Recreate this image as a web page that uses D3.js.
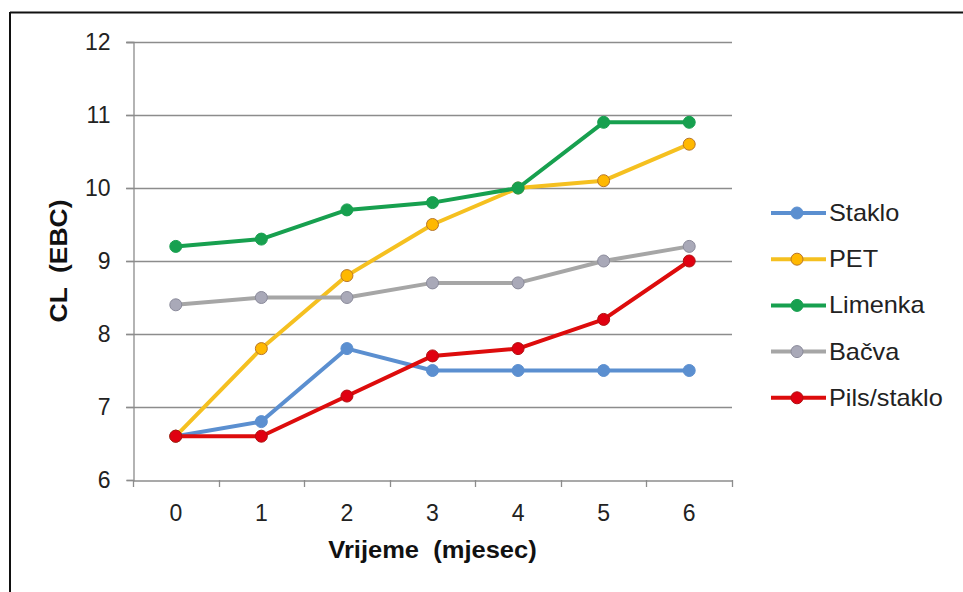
<!DOCTYPE html>
<html>
<head>
<meta charset="utf-8">
<script src="https://cdn.jsdelivr.net/npm/d3@7"></script>
<style>
  html, body { margin: 0; padding: 0; background: #fff; }
  svg { display: block; }
  text { font-family: "Liberation Sans", Arial, sans-serif; }
</style>
</head>
<body>
<svg id="chart" width="963" height="592"></svg>
<script>
const months = ["0", "1", "2", "3", "4", "5", "6"];
const yTicks = [6, 7, 8, 9, 10, 11, 12];
const seriesNames = ["Staklo", "PET", "Limenka", "Bačva", "Pils/staklo"];
const staklo = [6.6, 6.8, 7.8, 7.5, 7.5, 7.5, 7.5];
const pet = [6.6, 7.8, 8.8, 9.5, 10.0, 10.1, 10.6];
const limenka = [9.2, 9.3, 9.7, 9.8, 10.0, 10.9, 10.9];
const bacva = [8.4, 8.5, 8.5, 8.7, 8.7, 9.0, 9.2];
const pils = [6.6, 6.6, 7.15, 7.7, 7.8, 8.2, 9.0];

const styles = [
  { line: "#5b8fd0", fill: "#5b8fd0", stroke: "#5b8fd0" },
  { line: "#f5c020", fill: "#ffb800", stroke: "#b8762a" },
  { line: "#17a04f", fill: "#17a04f", stroke: "#17a04f" },
  { line: "#a6a6a6", fill: "#a9a9b8", stroke: "#8a8a9a" },
  { line: "#dd0c0c", fill: "#e00010", stroke: "#b01010" }
];
const allData = [staklo, pet, limenka, bacva, pils];

const svg = d3.select("#chart");

// outer frame (top and left edges visible)
svg.append("line").attr("x1", 10).attr("x2", 963).attr("y1", 12.5).attr("y2", 12.5)
  .attr("stroke", "#111").attr("stroke-width", 2);
svg.append("line").attr("x1", 10).attr("x2", 10).attr("y1", 12).attr("y2", 592)
  .attr("stroke", "#111").attr("stroke-width", 2);

const pLeft = 133, pRight = 732, pTop = 42, pBottom = 480;
const x = d3.scaleBand().domain(months).range([pLeft, pRight]);
const y = d3.scaleLinear().domain([6, 12]).range([pBottom, pTop]);

// gridlines
svg.append("g").selectAll("line").data(yTicks.filter(d => d > 6)).join("line")
  .attr("x1", pLeft - 7).attr("x2", pRight)
  .attr("y1", d => Math.round(y(d)) + 0.5).attr("y2", d => Math.round(y(d)) + 0.5)
  .attr("stroke", "#8c8c8c").attr("stroke-width", 1.3);

// y axis
const yAxis = svg.append("g").attr("transform", `translate(${pLeft + 0.5},0)`)
  .call(d3.axisLeft(y).tickValues(yTicks).tickSize(7).tickPadding(16).tickFormat(d3.format("d")));
yAxis.select(".domain").attr("stroke", "#8c8c8c").attr("stroke-width", 1.3);
yAxis.selectAll(".tick line").attr("stroke", "#8c8c8c").attr("stroke-width", 1.3);
yAxis.selectAll(".tick text").attr("font-size", 23).attr("fill", "#222")
  .attr("font-family", "Liberation Sans, Arial, sans-serif");

// x axis
const xAxis = svg.append("g").attr("transform", `translate(0,${pBottom + 0.5})`)
  .call(d3.axisBottom(x).tickSize(0).tickPadding(24));
xAxis.select(".domain").attr("stroke", "#8c8c8c").attr("stroke-width", 1.3);
xAxis.selectAll(".tick text").attr("font-size", 23).attr("fill", "#222")
  .attr("font-family", "Liberation Sans, Arial, sans-serif");
// band boundary tick marks
const bounds = d3.range(months.length + 1).map(i => pLeft + i * x.step());
svg.append("g").selectAll("line").data(bounds).join("line")
  .attr("x1", d => Math.round(d) + 0.5).attr("x2", d => Math.round(d) + 0.5)
  .attr("y1", pBottom).attr("y2", pBottom + 7)
  .attr("stroke", "#8c8c8c").attr("stroke-width", 1.3);

// axis titles
svg.append("text").attr("transform", `translate(${(pLeft + pRight) / 2},558) scale(1.11,1)`)
  .attr("text-anchor", "middle").attr("font-size", 23).attr("font-weight", "bold")
  .attr("fill", "#111").attr("xml:space", "preserve").text("Vrijeme  (mjesec)");
svg.append("text").attr("transform", "translate(67,261) rotate(-90) scale(1.15,1)")
  .attr("text-anchor", "middle").attr("font-size", 23).attr("font-weight", "bold")
  .attr("fill", "#111").attr("xml:space", "preserve").text("CL  (EBC)");

const line = d3.line()
  .x((d, i) => x(months[i]) + x.bandwidth() / 2)
  .y(d => y(d));

allData.forEach((vals, si) => {
  const st = styles[si];
  const g = svg.append("g");
  g.append("path").datum(vals).attr("d", line)
    .attr("fill", "none").attr("stroke", st.line).attr("stroke-width", 4)
    .attr("stroke-linejoin", "round");
  g.selectAll("circle").data(vals).join("circle")
    .attr("cx", (d, i) => x(months[i]) + x.bandwidth() / 2)
    .attr("cy", d => y(d)).attr("r", 6)
    .attr("fill", st.fill).attr("stroke", st.stroke).attr("stroke-width", 1);
});

// legend
const legend = svg.append("g");
seriesNames.forEach((name, i) => {
  const st = styles[i];
  const ly = 213 + i * 46.2;
  legend.append("line").attr("x1", 771).attr("x2", 826).attr("y1", ly).attr("y2", ly)
    .attr("stroke", st.line).attr("stroke-width", 4);
  legend.append("circle").attr("cx", 797).attr("cy", ly).attr("r", 6)
    .attr("fill", st.fill).attr("stroke", st.stroke).attr("stroke-width", 1);
  legend.append("text").attr("transform", `translate(829,${ly + 8}) scale(1.1,1)`)
    .attr("font-size", 23).attr("fill", "#222").text(name);
});
</script>
</body>
</html>
